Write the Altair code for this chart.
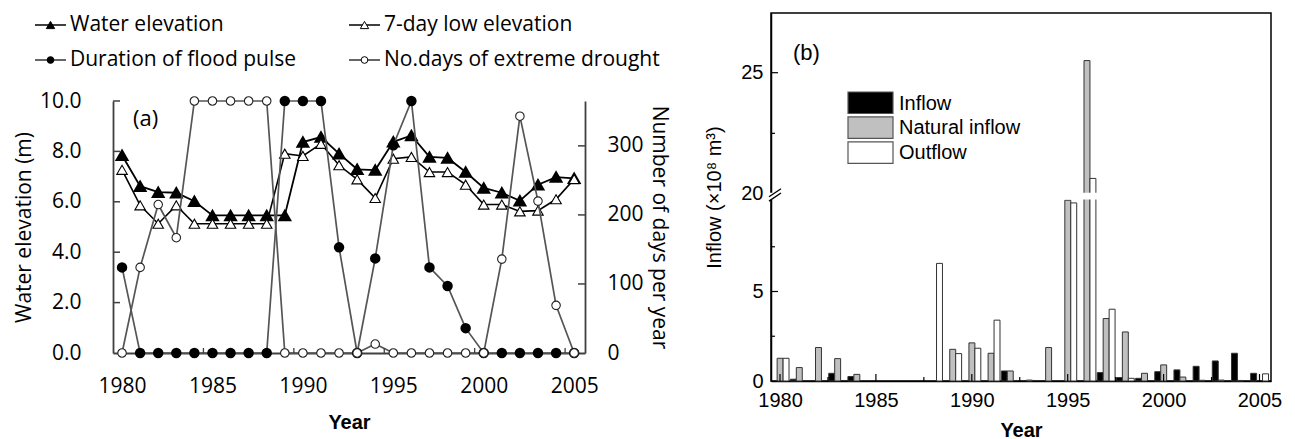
import altair as alt
import pandas as pd

# ---------------- data ----------------
YEARS = list(range(1980, 2006))

# panel (a): left axis (m)
WATER_ELEV = [7.85, 6.62, 6.38, 6.36, 6.02, 5.46, 5.46, 5.46, 5.46, 5.46,
              8.37, 8.57, 7.91, 7.29, 7.26, 8.38, 8.63, 7.78, 7.74, 7.18,
              6.55, 6.36, 6.04, 6.68, 6.98, 6.93]
LOW7_ELEV = [7.27, 5.86, 5.13, 5.86, 5.13, 5.13, 5.13, 5.13, 5.13, 7.91,
             7.82, 8.30, 7.45, 6.89, 6.15, 7.71, 7.78, 7.18, 7.18, 6.68,
             5.89, 5.89, 5.62, 5.65, 6.10, 6.90]
# panel (a): right axis (days)
FLOOD_DAYS = [124, 0, 0, 0, 0, 0, 0, 0, 0, 365, 365, 365, 153, 0, 137,
              301, 365, 124, 97, 36, 0, 0, 0, 0, 0, 0]
DROUGHT_DAYS = [0, 124, 215, 167, 365, 365, 365, 365, 365, 0, 0, 0, 0, 0,
                13, 0, 0, 0, 0, 0, 0, 136, 343, 220, 69, 0]

# panel (b): 10^8 m^3
INFLOW = [0, 0.10, 0, 0.43, 0.25, 0, 0, 0, 0, 0, 0, 0, 0.56, 0, 0,
          0, 0, 0.47, 0.19, 0.15, 0.52, 0.62, 0.82, 1.12, 1.55, 0.43]
NATURAL_INFLOW = [1.27, 0.75, 1.87, 1.25, 0.37, 0, 0, 0, 0, 1.77, 2.13, 1.55,
                  0.56, 0.05, 1.87, 10.10, 25.50, 3.49, 2.74, 0.43, 0.90,
                  0.22, 0.04, 0.05, 0.03, 0]
OUTFLOW = [1.27, 0, 0, 0, 0, 0, 0, 0, 6.57, 1.53, 1.83, 3.40, 0, 0, 0,
           9.95, 20.64, 4.01, 0.15, 0, 0, 0, 0, 0, 0, 0.40]
SERIES_B = ["Inflow", "Natural inflow", "Outflow"]

LEGEND_A = ["Water elevation", "7-day low elevation",
            "Duration of flood pulse", "No.days of extreme drought"]

X_TICKS = [1980, 1985, 1990, 1995, 2000, 2005]
ELEV_TICKS = [0, 2, 4, 6, 8, 10]
DAY_TICKS = [0, 100, 200, 300]
B_MAJOR = [5, 25]
B_MINOR = [2.5, 7.5, 22.5]
B_LABELS = [0, 5, 20, 25]

# ---------------- style / layout ----------------
FA = "Open Sans"
FB = "Liberation Sans"
AXC = "#404040"
GRAYLINE = "#555555"

AW, AH = 472, 252
BW, BH = 500, 368
LEG_H = 75

# broken axis for panel (b)
SPLIT = 15.0          # values below are on the lower segment
BREAK_AT = 20.0       # upper segment starts here
D_BREAK = 10.45       # display position of BREAK_AT
UPPER_RATIO = 1.355   # upper segment stretch
D_TOP = 20.56
GAP = (10.14, 10.52)


def d_of(v):
    return v if v < SPLIT else D_BREAK + (v - BREAK_AT) * UPPER_RATIO


one = pd.DataFrame({"k": [0]})

# ---------------- panel (a) ----------------
dfa = pd.DataFrame({"year": YEARS, "elev": WATER_ELEV, "low7": LOW7_ELEV,
                    "flood": FLOOD_DAYS, "drought": DROUGHT_DAYS})
xA = alt.Scale(domain=[1979.5, 2005.6], nice=False, zero=False)
yA = alt.Scale(domain=[0, 10], nice=False)
y2A = alt.Scale(domain=[0, 365], nice=False)

x_axis_a = alt.Axis(values=X_TICKS, format="d", labelFont=FA, labelFontSize=21,
                    labelColor="black", labelPadding=22, ticks=False, tickSize=0,
                    domainColor=AXC, domainWidth=1.8, grid=False,
                    title="Year", titleFont=FB, titleFontSize=20,
                    titleFontWeight="bold", titleColor="black", titlePadding=16)
left_axis_a = alt.Axis(values=ELEV_TICKS, format=".1f", labelFont=FA,
                       labelFontSize=21, labelColor="black", labelPadding=32,
                       ticks=False, tickSize=0, domainColor=AXC, domainWidth=1.8,
                       grid=False, title="Water elevation (m)", titleFont=FA,
                       titleFontSize=21, titleFontWeight="normal",
                       titleColor="black", titlePadding=5)
right_axis_a = alt.Axis(orient="right", values=DAY_TICKS, format="d",
                        labelFont=FA, labelFontSize=21, labelColor="black",
                        labelPadding=22, ticks=False, tickSize=0,
                        domainColor=AXC, domainWidth=1.8, grid=False,
                        title="Number of days per year", titleFont=FA,
                        titleFontSize=21, titleFontWeight="normal",
                        titleColor="black", titlePadding=5)


def XA(field):
    return alt.X(field, type="quantitative", scale=xA, axis=x_axis_a)


def YL(field):
    return alt.Y(field, type="quantitative", scale=yA, axis=left_axis_a)


def YR(field):
    return alt.Y(field, type="quantitative", scale=y2A, axis=right_axis_a)


base = alt.Chart(dfa)

elev_line = base.mark_line(color="black", strokeWidth=1.8).encode(
    x=XA("year"), y=YL("elev"))
low_line = base.mark_line(color="black", strokeWidth=1.6).encode(
    x=XA("year"), y=YL("low7"))
elev_pts = base.mark_point(shape="triangle-up", filled=True, fill="black",
                           stroke="black", size=120, opacity=1).encode(
    x=XA("year"), y=YL("elev"))
low_pts = base.mark_point(shape="triangle-up", filled=True, fill="white",
                          stroke="black", strokeWidth=1.1, size=110, opacity=1).encode(
    x=XA("year"), y=YL("low7"))
lticks = alt.Chart(pd.DataFrame({"t": ELEV_TICKS[1:]})).mark_rule(
    color=AXC, strokeWidth=1.5).encode(
    x=alt.value(0), x2=alt.value(7), y=YL("t"))
left_group = alt.layer(elev_line, low_line, elev_pts, low_pts, lticks)

flood_line = base.mark_line(color=GRAYLINE, strokeWidth=1.7).encode(
    x=XA("year"), y=YR("flood"))
drought_line = base.mark_line(color=GRAYLINE, strokeWidth=1.7).encode(
    x=XA("year"), y=YR("drought"))
flood_pts = base.mark_point(shape="circle", filled=True, fill="black",
                            stroke="black", size=72, opacity=1).encode(
    x=XA("year"), y=YR("flood"))
drought_pts = base.mark_point(shape="circle", filled=True, fill="white",
                              stroke="#222222", strokeWidth=1.1, size=72,
                              opacity=1).encode(
    x=XA("year"), y=YR("drought"))
rticks = alt.Chart(pd.DataFrame({"t": DAY_TICKS[1:]})).mark_rule(
    color=AXC, strokeWidth=1.5).encode(
    x=alt.value(AW), x2=alt.value(AW - 7), y=YR("t"))
right_group = alt.layer(flood_line, drought_line, flood_pts, drought_pts, rticks)

bticks_a = alt.Chart(pd.DataFrame({"t": [t - 0.5 for t in X_TICKS[1:]]})).mark_rule(
    color=AXC, strokeWidth=1.3).encode(
    x=XA("t"), y=alt.value(AH), y2=alt.value(AH - 5))

label_a = alt.Chart(one).mark_text(text="(a)", font=FA, fontSize=22,
                                   color="black", align="left",
                                   baseline="middle").encode(
    x=alt.value(20), y=alt.value(18))

panel_a = alt.layer(left_group, right_group, bticks_a, label_a
                    ).resolve_scale(y="independent").properties(width=AW, height=AH)

# custom legend above panel (a)
LEG_COL_X = [-78, 236]
LEG_ROW_Y = [12, 47]
leg_style = [  # (shape, fill, line colour)
    ("triangle-up", "black", "black"),
    ("triangle-up", "white", "black"),
    ("circle", "black", "#333333"),
    ("circle", "white", "#333333"),
]
legend_a = []
for i, name in enumerate(LEGEND_A):
    cx = LEG_COL_X[i % 2]
    cy = LEG_ROW_Y[i // 2]
    shape, fill, lc = leg_style[i]
    legend_a.append(alt.Chart(one).mark_rule(color=lc, strokeWidth=1.5).encode(
        x=alt.value(cx), x2=alt.value(cx + 31), y=alt.value(cy)))
    legend_a.append(alt.Chart(one).mark_point(
        shape=shape, filled=True, fill=fill, stroke="black", strokeWidth=1,
        size=70 if shape != "circle" else 45, opacity=1).encode(
        x=alt.value(cx + 15.5), y=alt.value(cy)))
    legend_a.append(alt.Chart(one).mark_text(
        text=name, font=FA, fontSize=21, color="black", align="left",
        baseline="middle").encode(x=alt.value(cx + 35), y=alt.value(cy)))
legend_chart = alt.layer(*legend_a).properties(width=AW, height=LEG_H)

left_column = alt.vconcat(legend_chart, panel_a, spacing=0)

# ---------------- panel (b) ----------------
BAR_START = -0.46
BAR_W = 0.31
rows = []
for s_i, (name, vals) in enumerate(zip(SERIES_B, [INFLOW, NATURAL_INFLOW, OUTFLOW])):
    for yr, v in zip(YEARS, vals):
        rows.append({"year": yr, "series": name, "idx": s_i, "value": v})
dfb = pd.DataFrame(rows)

xB = alt.Scale(domain=[1979.53, 2005.6], nice=False, zero=False)
yB = alt.Scale(domain=[0, D_TOP], nice=False)

x_axis_b = alt.Axis(values=X_TICKS, format="d", labelFont=FB, labelFontSize=20,
                    labelColor="black", labelPadding=9, ticks=False, tickSize=0,
                    domainColor="black", domainWidth=1.5, grid=False,
                    title="Year", titleFont=FB, titleFontSize=20,
                    titleFontWeight="bold", titleColor="black", titlePadding=10)
label_expr = (f"datum.value < {D_BREAK - 0.1} ? format(round(datum.value), 'd') : "
              f"format(round({BREAK_AT} + (datum.value - {D_BREAK}) / {UPPER_RATIO}), 'd')")
y_axis_b = alt.Axis(values=[d_of(v) for v in B_LABELS], labelExpr=label_expr,
                    labelFont=FB, labelFontSize=20, labelColor="black",
                    labelPadding=8, ticks=False, tickSize=0, domainColor="black",
                    domainWidth=1.5, grid=False,
                    title="Inflow (×10⁸ m³)", titleFont=FB, titleFontSize=20,
                    titleFontWeight="normal", titleColor="black", titlePadding=16)


def XB(field):
    return alt.X(field, type="quantitative", scale=xB, axis=x_axis_b)


def YB(field, **kw):
    return alt.Y(field, type="quantitative", scale=yB, axis=y_axis_b, **kw)


bars = alt.Chart(dfb).transform_filter("datum.value > 0").transform_calculate(
    x0=f"datum.year + {BAR_START} + datum.idx * {BAR_W}",
    x1=f"datum.year + {BAR_START} + (datum.idx + 1) * {BAR_W}",
    d=f"datum.value < {SPLIT} ? datum.value : {D_BREAK} + (datum.value - {BREAK_AT}) * {UPPER_RATIO}",
).mark_bar(stroke="#333333", strokeWidth=1).encode(
    x=XB("x0"),
    x2="x1:Q",
    y=YB("d", stack=False),
    y2=alt.datum(0),
    color=alt.Color("series:N", scale=alt.Scale(domain=SERIES_B,
                    range=["#000000", "#c0c0c0", "#ffffff"]), legend=None),
)

gap = alt.Chart(pd.DataFrame({"lo": [GAP[0]], "hi": [GAP[1]]})).mark_rect(
    fill="white").encode(x=alt.value(-3), x2=alt.value(BW - 2),
                         y=YB("lo"), y2="hi:Q")
brk = alt.Chart(pd.DataFrame({"a": [D_BREAK - 0.4, D_BREAK - 0.16],
                              "b": [D_BREAK + 0.05, D_BREAK + 0.29]})).mark_rule(
    color="black", strokeWidth=1.3).encode(
    x=alt.value(-2), x2=alt.value(10), y=YB("a"), y2="b:Q")

xt_major = alt.Chart(pd.DataFrame({"t": X_TICKS})).mark_rule(
    color="black", strokeWidth=1.2).encode(
    x=XB("t"), y=alt.value(BH), y2=alt.value(BH - 7))
xt_minor = alt.Chart(pd.DataFrame({"t": [t + 2.5 for t in X_TICKS[:-1]]})).mark_rule(
    color="black", strokeWidth=1.2).encode(
    x=XB("t"), y=alt.value(BH), y2=alt.value(BH - 4))
yt_major = alt.Chart(pd.DataFrame({"t": [d_of(v) for v in B_MAJOR]})).mark_rule(
    color="black", strokeWidth=1.2).encode(
    x=alt.value(0), x2=alt.value(7), y=YB("t"))
yt_minor = alt.Chart(pd.DataFrame({"t": [d_of(v) for v in B_MINOR]})).mark_rule(
    color="black", strokeWidth=1.2).encode(
    x=alt.value(0), x2=alt.value(4), y=YB("t"))

LEG_B_X = 77
LEG_B_Y0 = 79
LEG_B_STEP = 24.9
LEG_B_FILL = ["#000000", "#c0c0c0", "#ffffff"]
legend_b = []
for i, name in enumerate(SERIES_B):
    top = LEG_B_Y0 + i * LEG_B_STEP
    legend_b.append(alt.Chart(one).mark_rect(
        fill=LEG_B_FILL[i], stroke="#555555", strokeWidth=1.2).encode(
        x=alt.value(LEG_B_X), x2=alt.value(LEG_B_X + 45),
        y=alt.value(top), y2=alt.value(top + 21.5)))
    legend_b.append(alt.Chart(one).mark_text(
        text=name, font=FB, fontSize=20, color="black", align="left",
        baseline="middle").encode(x=alt.value(LEG_B_X + 51), y=alt.value(top + 11.5)))

label_b = alt.Chart(one).mark_text(text="(b)", font=FB, fontSize=22,
                                   color="black", align="left",
                                   baseline="middle").encode(
    x=alt.value(22), y=alt.value(40))

panel_b = alt.layer(bars, gap, brk, xt_major, xt_minor, yt_major, yt_minor,
                    label_b, *legend_b).properties(
    width=BW, height=BH,
    view=alt.ViewBackground(stroke="black", strokeWidth=1.5))

chart = alt.hconcat(left_column, panel_b, spacing=34).properties(
    padding={"left": 4, "top": 4, "right": 0, "bottom": 0},
    background="white",
).configure_view(stroke="transparent")

chart.save("out.html", embed_options={"renderer": "svg", "actions": False})
